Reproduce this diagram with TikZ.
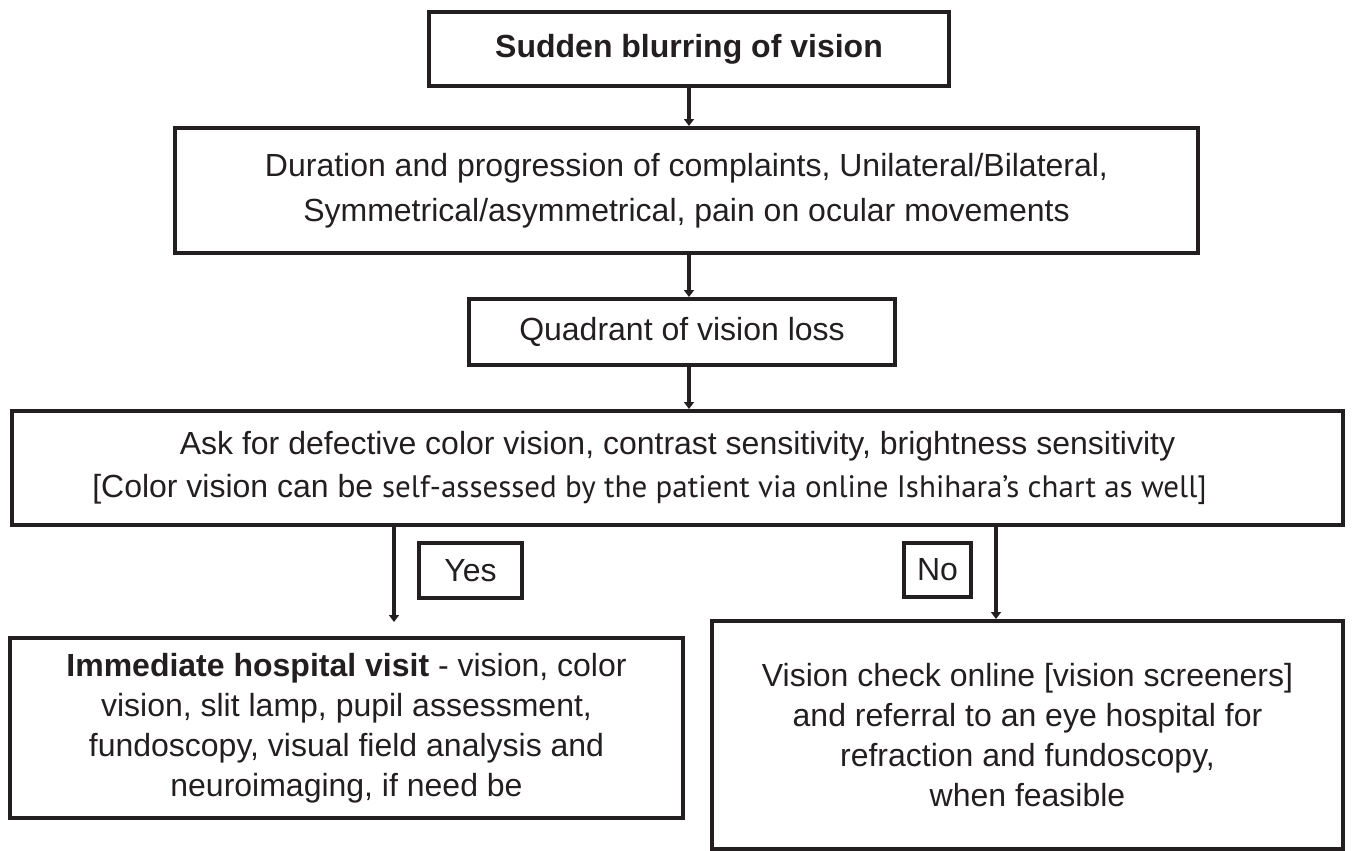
\documentclass[tikz,border=0pt]{standalone}
\usepackage{fontspec}
\setmainfont{Liberation Sans}
\newfontfamily\myr{PT Sans}
\usetikzlibrary{arrows.meta}
\definecolor{ink}{HTML}{231F20}
\begin{document}
\begin{tikzpicture}[x=1pt,y=-1pt,
  box/.style={draw=ink, text=ink, line width=4pt, inner sep=0pt, align=center, font=\fontsize{32}{43}\selectfont},
  arr/.style={draw=ink, line width=3.5pt, -{Triangle[width=10pt,length=7pt]}}]
\useasboundingbox (0,0) rectangle (1353,851);
\node[box, minimum width=520pt, minimum height=74pt] (b1) at (689,49) {\textbf{Sudden blurring of vision}};
\node[box, minimum width=1023pt, minimum height=125pt, font=\fontsize{32}{45}\selectfont] (b2) at (686.5,190.5) {Duration and progression of complaints, Unilateral/Bilateral,\\Symmetrical/asymmetrical, pain on ocular movements};
\node[box, minimum width=426pt, minimum height=66pt] (b3) at (682,332) {Quadrant of vision loss};
\node[box, minimum width=1331pt, minimum height=114pt] (b4) at (677.5,468) {Ask for defective color vision, contrast sensitivity, brightness sensitivity\\{}[Color vision can be {\myr\fontsize{31}{43}\selectfont self-assessed by the patient via online Ishihara’s chart as well]}\hspace*{56pt}};
\node[box, minimum width=103pt, minimum height=55pt] (yes) at (470.5,570.5) {Yes};
\node[box, minimum width=67pt, minimum height=54pt] (no) at (937.5,570) {No};
\node[box, minimum width=673pt, minimum height=180pt, font=\fontsize{32}{40}\selectfont] (b5) at (346.5,728) {\textbf{Immediate hospital visit} - vision, color\\vision, slit lamp, pupil assessment,\\fundoscopy, visual field analysis and\\neuroimaging, if need be};
\node[box, minimum width=631pt, minimum height=228pt, font=\fontsize{32}{40}\selectfont] (b6) at (1027.5,735) {Vision check online [vision screeners]\\and referral to an eye hospital for\\refraction and fundoscopy,\\when feasible};
\coordinate (yend) at (394,622);
\coordinate (nox) at (996,0);
\draw[arr] (b1.south) -- (b1.south |- b2.north);
\draw[arr] (b2.south -| b1.south) -- (b3.north -| b1.south);
\draw[arr] (b3.south -| b1.south) -- (b4.north -| b1.south);
\draw[arr] (b4.south -| yend) -- (yend);
\draw[arr] (b4.south -| nox) -- (b6.north -| nox);
\end{tikzpicture}
\end{document}
